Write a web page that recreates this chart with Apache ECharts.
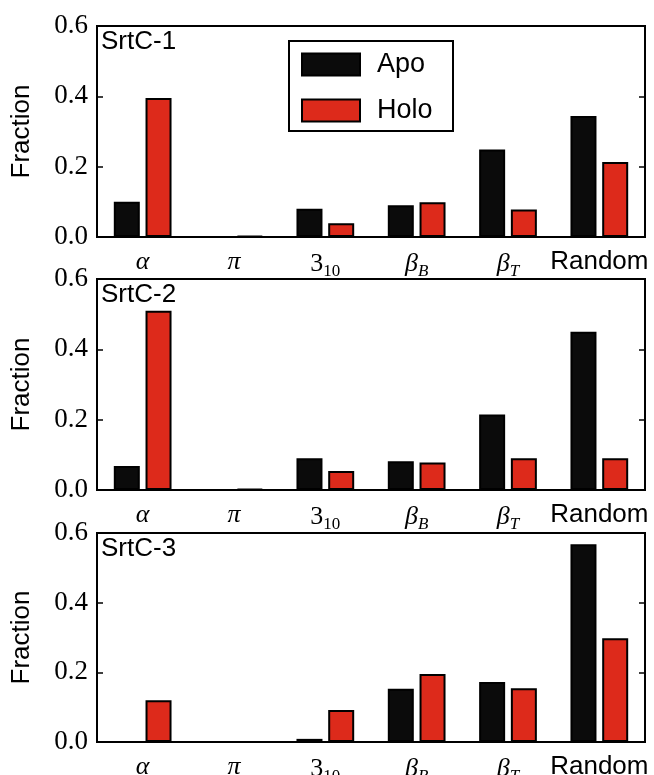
<!DOCTYPE html>
<html>
<head>
<meta charset="utf-8">
<script src="https://cdn.jsdelivr.net/npm/echarts@6/dist/echarts.min.js"></script>
<style>
  html, body { margin: 0; padding: 0; background: #fff; }
  #chart { width: 654px; height: 775px; }
</style>
</head>
<body>
<div id="chart"></div>
<script>
// categories (secondary structure types)
const categories = ["alpha", "pi", "310", "betaB", "betaT", "Random"];
const panelNames = ["SrtC-1", "SrtC-2", "SrtC-3"];
const yTicks = [0, 0.2, 0.4, 0.6];

// fractions
const apo1 = [0.100, 0.000, 0.080, 0.090, 0.249, 0.344];
const holo1 = [0.395, 0.003, 0.039, 0.099, 0.078, 0.213];
const apo2 = [0.068, 0.000, 0.090, 0.082, 0.215, 0.450];
const holo2 = [0.510, 0.003, 0.054, 0.078, 0.090, 0.090];
const apo3 = [0.000, 0.000, 0.009, 0.153, 0.172, 0.568];
const holo3 = [0.120, 0.000, 0.092, 0.195, 0.154, 0.298];

const apoData = [apo1, apo2, apo3];
const holoData = [holo1, holo2, holo3];

const chart = echarts.init(document.getElementById("chart"));

const BLACK = "#0b0b0b";
const RED = "#dd2a1b";
const gridTops = [26, 279, 533];
const gridHeights = [211, 211, 209];

const labelFmt = {
  alpha: "{m|α}",
  pi: "{m|π}",
  "310": "{n|3}{sn|10}",
  betaB: "{m|β}{s|B}",
  betaT: "{m|β}{s|T}",
  Random: "{r|Random}",
};

const grid = [], xAxis = [], yAxis = [], series = [], graphic = [];

gridTops.forEach((top, i) => {
  grid.push({
    left: 97, right: 9, top: top, height: gridHeights[i],
    outerBoundsMode: "none", containLabel: false,
    show: true, borderColor: "#000", borderWidth: 2, backgroundColor: "#fff",
  });
  xAxis.push({
    type: "category", gridIndex: i, data: categories,
    axisLine: { show: false }, axisTick: { show: false },
    axisLabel: {
      margin: 12,
      formatter: (v) => labelFmt[v],
      rich: {
        m: { fontFamily: "Liberation Serif", fontStyle: "italic", fontSize: 26, color: "#000" },
        n: { fontFamily: "Liberation Serif", fontSize: 26, color: "#000" },
        s: { fontFamily: "Liberation Serif", fontStyle: "italic", fontSize: 17, color: "#000", padding: [14, 0, 0, 0] },
        sn: { fontFamily: "Liberation Serif", fontSize: 17, color: "#000", padding: [14, 0, 0, 0] },
        r: { fontFamily: "Liberation Sans", fontSize: 26, color: "#000" },
      },
    },
  });
  // left axis with labels
  yAxis.push({
    type: "value", gridIndex: i, min: 0, max: 0.6, interval: 0.2,
    name: "Fraction", nameLocation: "middle", nameGap: 62,
    nameTextStyle: { fontFamily: "Liberation Sans", fontSize: 26, color: "#000" },
    splitLine: { show: false },
    axisLine: { show: false },
    axisTick: { show: true, inside: true, length: 6, lineStyle: { color: "#000", width: 1.5 } },
    axisLabel: {
      margin: 9, color: "#000", fontFamily: "Liberation Serif", fontSize: 27,
      formatter: (v) => v.toFixed(1),
    },
  });
  // mirrored ticks on the right
  yAxis.push({
    type: "value", gridIndex: i, position: "right", min: 0, max: 0.6, interval: 0.2,
    splitLine: { show: false }, axisLine: { show: false }, axisLabel: { show: false },
    axisTick: { show: true, inside: true, length: 6, lineStyle: { color: "#000", width: 1.5 } },
  });
  series.push({
    name: "Apo", type: "bar", xAxisIndex: i, yAxisIndex: i * 2,
    data: apoData[i], barWidth: 26, barGap: "22%",
    itemStyle: { color: BLACK, borderColor: "#000", borderWidth: 2 },
  });
  series.push({
    name: "Holo", type: "bar", xAxisIndex: i, yAxisIndex: i * 2,
    data: holoData[i], barWidth: 26, barGap: "22%",
    itemStyle: { color: RED, borderColor: "#000", borderWidth: 2 },
  });
  graphic.push({
    type: "text", left: 101, top: top + 3,
    style: { text: panelNames[i], fontFamily: "Liberation Sans", fontSize: 26, fill: "#000" },
  });
});

graphic.push({
  type: "rect", shape: { x: 289, y: 41, width: 164, height: 90 },
  style: { fill: "#fff", stroke: "#000", lineWidth: 2 }, z: 10,
});

chart.setOption({
  animation: false,
  grid, xAxis, yAxis, series, graphic,
  legend: {
    data: ["Apo", "Holo"], orient: "vertical", left: 301, top: 51,
    itemWidth: 58, itemHeight: 22, itemGap: 19, padding: 0, z: 20,
    icon: "rect",
    textStyle: { fontFamily: "Liberation Sans", fontSize: 27, color: "#000", padding: [0, 0, 0, 12] },
  },
});

window.onresize = function () {
  chart.resize();
};
</script>
</body>
</html>
